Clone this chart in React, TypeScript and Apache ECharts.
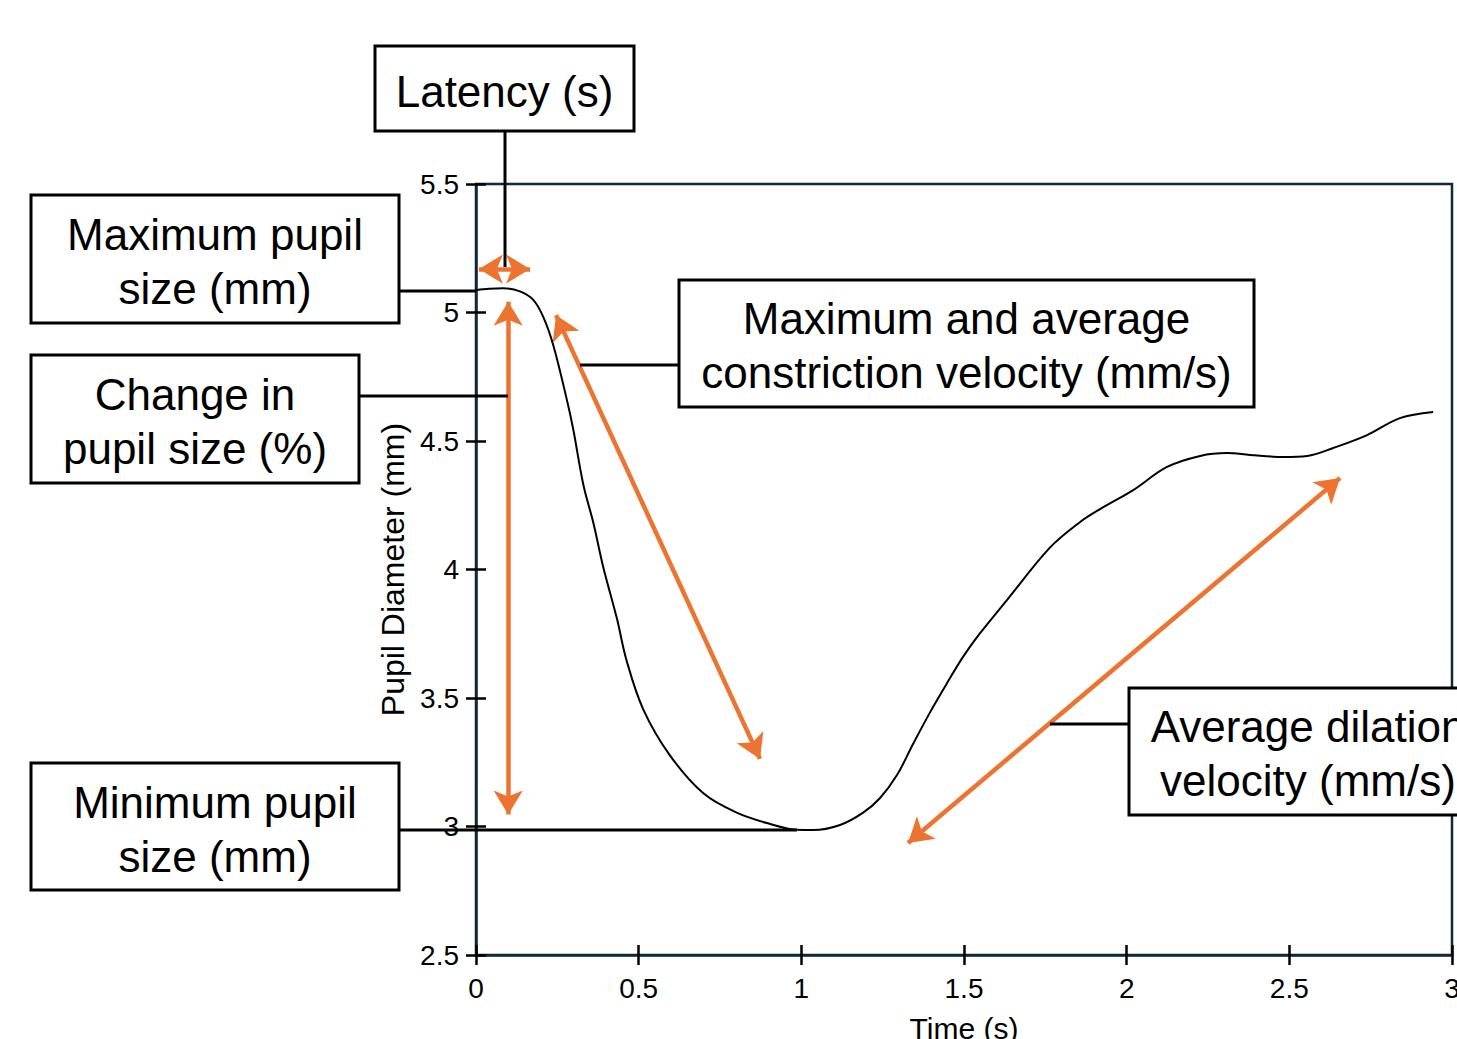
import React, { useEffect, useRef } from "react";
import * as echarts from "echarts";

const timeS = [0.0, 0.04, 0.084, 0.135, 0.176, 0.207, 0.238, 0.279, 0.299, 0.33, 0.361, 0.391, 0.433, 0.463, 0.514, 0.596, 0.699, 0.801, 0.904, 0.986, 1.036, 1.119, 1.19, 1.242, 1.294, 1.343, 1.396, 1.448, 1.497, 1.55, 1.632, 1.764, 1.857, 1.918, 2.02, 2.124, 2.226, 2.309, 2.379, 2.481, 2.555, 2.635, 2.739, 2.84, 2.942];
const diameterMm = [5.087, 5.092, 5.094, 5.082, 5.049, 4.982, 4.871, 4.662, 4.545, 4.33, 4.18, 4.01, 3.81, 3.645, 3.456, 3.277, 3.129, 3.054, 3.01, 2.987, 2.986, 3.006, 3.054, 3.111, 3.2, 3.32, 3.445, 3.558, 3.66, 3.753, 3.881, 4.085, 4.185, 4.235, 4.309, 4.399, 4.442, 4.453, 4.446, 4.438, 4.442, 4.473, 4.523, 4.589, 4.613];

// double-headed orange arrows, in data coordinates [time, diameter]
const latencyArrow = [[0.009, 5.169], [0.166, 5.169]];
const changeArrow = [[0.099, 5.042], [0.099, 3.047]];
const constrictionArrow = [[0.246, 4.99], [0.873, 3.263]];
const dilationArrow = [[1.328, 2.936], [2.656, 4.356]];

const callouts = [
  "Latency (s)",
  "Maximum pupil\nsize (mm)",
  "Change in\npupil size (%)",
  "Maximum and average\nconstriction velocity (mm/s)",
  "Minimum pupil\nsize (mm)",
  "Average dilation\nvelocity (mm/s)",
];

const FONT = '"Liberation Sans", Arial, Helvetica, sans-serif';
const ORANGE = "#ED7430";
const FRAME = "#0e2a3a";

export default function App() {
  const ref = useRef<HTMLDivElement>(null);
  useEffect(() => {
    if (!ref.current) return;
    const chart = echarts.init(ref.current, null, { renderer: "svg" });
    const arrowLine = (a: number[][]) => [{ coord: a[0] }, { coord: a[1] }];
    const box = (x: number, y: number, w: number, h: number) => ({
      type: "rect",
      shape: { x, y, width: w, height: h },
      style: { fill: "#fff", stroke: "#000", lineWidth: 3 },
      z: 10,
    });
    const label = (text: string, x: number, y: number) => ({
      type: "text",
      x,
      y,
      style: {
        text,
        x: 0,
        y: 0,
        align: "center",
        verticalAlign: "middle",
        font: `44px ${FONT}`,
        lineHeight: 54,
        fill: "#000",
      },
      z: 11,
    });
    const lead = (x1: number, y1: number, x2: number, y2: number) => ({
      type: "line",
      shape: { x1, y1, x2, y2 },
      style: { stroke: "#000", lineWidth: 3 },
      z: 9,
    });
    const axisBase = { min: 0, max: 3, interval: 0.5 };
    const yBase = { min: 2.5, max: 5.5, interval: 0.5 };
    chart.setOption({
      animation: false,
      backgroundColor: "#fff",
      grid: {
        left: 476,
        top: 184,
        right: 5,
        bottom: 84,
        containLabel: false,
        outerBoundsMode: "none",
        show: true,
        borderColor: FRAME,
        borderWidth: 2.5,
        backgroundColor: "transparent",
      },
      xAxis: [
        {
          type: "value",
          ...axisBase,
          position: "bottom",
          name: "Time (s)",
          nameLocation: "middle",
          nameGap: 58,
          nameTextStyle: { fontFamily: FONT, fontSize: 30, color: "#000", verticalAlign: "top" },
          axisLine: { show: true, lineStyle: { color: FRAME, width: 2.5 } },
          axisTick: { show: true, length: 10, lineStyle: { color: "#000", width: 2.5 } },
          axisLabel: { fontFamily: FONT, fontSize: 28, color: "#000", margin: 19 },
          splitLine: { show: false },
        },
        {
          type: "value",
          ...axisBase,
          position: "bottom",
          axisLine: { show: false },
          axisTick: { show: true, inside: true, length: 10, lineStyle: { color: "#000", width: 2.5 } },
          axisLabel: { show: false },
          splitLine: { show: false },
        },
      ],
      yAxis: [
        {
          type: "value",
          ...yBase,
          position: "left",
          name: "Pupil Diameter (mm)",
          nameLocation: "middle",
          nameGap: 67,
          nameTextStyle: { fontFamily: FONT, fontSize: 32, color: "#000" },
          axisLine: { show: true, lineStyle: { color: FRAME, width: 2.5 } },
          axisTick: { show: true, length: 10, lineStyle: { color: "#000", width: 2.5 } },
          axisLabel: { fontFamily: FONT, fontSize: 28, color: "#000", margin: 17 },
          splitLine: { show: false },
        },
        {
          type: "value",
          ...yBase,
          position: "left",
          axisLine: { show: false },
          axisTick: { show: true, inside: true, length: 10, lineStyle: { color: "#000", width: 2.5 } },
          axisLabel: { show: false },
          splitLine: { show: false },
        },
      ],
      series: [
        {
          type: "line",
          data: timeS.map((t, i) => [t, diameterMm[i]]),
          showSymbol: false,
          smooth: 0.35,
          lineStyle: { color: "#000", width: 2 },
          z: 3,
          markLine: {
            silent: true,
            symbol: ["arrow", "arrow"],
            symbolSize: [22, 24],
            label: { show: false },
            lineStyle: { color: ORANGE, width: 4.5, type: "solid" },
            data: [
              arrowLine(latencyArrow),
              arrowLine(changeArrow),
              arrowLine(constrictionArrow),
              arrowLine(dilationArrow),
            ],
          },
        },
      ],
      graphic: [
        lead(505, 131, 505, 267),
        lead(399, 291, 476, 291),
        lead(359, 396, 508, 396),
        lead(580, 365, 679, 365),
        lead(399, 830, 797, 830),
        lead(1050, 724, 1129, 724),
        box(375, 46, 259, 85),
        label(callouts[0], 504.5, 91),
        box(31, 195, 368, 128),
        label(callouts[1], 215, 261),
        box(31, 355, 328, 128),
        label(callouts[2], 195, 421),
        box(679, 280, 575, 127),
        label(callouts[3], 966.5, 345),
        box(31, 763, 368, 127),
        label(callouts[4], 215, 829),
        box(1129, 688, 358, 127),
        label(callouts[5], 1308, 753),
      ],
    });
    return () => chart.dispose();
  }, []);
  return (
    <div
      ref={ref}
      style={{ position: "fixed", left: 0, top: 0, width: 1457, height: 1039, background: "#fff" }}
    />
  );
}
